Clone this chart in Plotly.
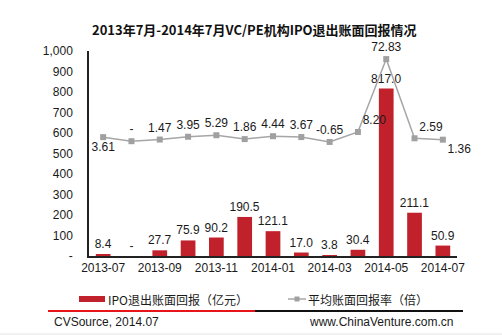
import plotly.graph_objects as go

months = ["2013-07", "2013-08", "2013-09", "2013-10", "2013-11", "2013-12", "2014-01",
          "2014-02", "2014-03", "2014-04", "2014-05", "2014-06", "2014-07"]
ipo_return = [8.4, 0, 27.7, 75.9, 90.2, 190.5, 121.1, 17.0, 3.8, 30.4, 817.0, 211.1, 50.9]
ipo_labels = ["8.4", "-", "27.7", "75.9", "90.2", "190.5", "121.1", "17.0", "3.8", "30.4", "817.0", "211.1", "50.9"]
avg_rate = [3.61, 0, 1.47, 3.95, 5.29, 1.86, 4.44, 3.67, -0.65, 8.20, 72.83, 2.59, 1.36]
rate_labels = ["3.61", "-", "1.47", "3.95", "5.29", "1.86", "4.44", "3.67", "-0.65", "8.20", "72.83", "2.59", "1.36"]
rate_pos = ["bottom center", "top center", "top center", "top center", "top center", "top center",
            "top center", "top center", "top center", "top right", "top center", "top right", "bottom right"]
tick_vals = [0, 100, 200, 300, 400, 500, 600, 700, 800, 900, 1000]
tick_text = ["-", "100", "200", "300", "400", "500", "600", "700", "800", "900", "1,000"]
x_ticks = ["2013-07", "2013-09", "2013-11", "2014-01", "2014-03", "2014-05", "2014-07"]

FONT = "Liberation Sans, Arial, sans-serif"
CJK = "Noto Sans CJK SC, sans-serif"
RED = "#C1212B"
GRAY = "#A6A6A6"

fig = go.Figure()
fig.add_trace(go.Scatter(
    x=months, y=avg_rate, yaxis="y2", mode="lines+markers+text",
    text=rate_labels, textposition=rate_pos, cliponaxis=False,
    line=dict(color=GRAY, width=1.5),
    marker=dict(symbol="square", size=6, color="#A0A0A0"),
    textfont=dict(family=FONT, size=12, color="#1a1a1a"),
    name="平均账面回报率（倍）", showlegend=False,
))
fig.add_trace(go.Bar(
    x=months, y=ipo_return, text=ipo_labels, textposition="outside", cliponaxis=False,
    constraintext="none",
    marker=dict(color=RED, line=dict(width=0)),
    textfont=dict(family=FONT, size=12, color="#1a1a1a"),
    name="IPO退出账面回报（亿元）", showlegend=False,
))

# paper coordinate helpers (plot area px: x 89..457, y 51..256)
def px(x):
    return (x - 89) / 368.0

def py(y):
    return (256 - y) / 205.0

shapes = [
    dict(type="rect", xref="paper", yref="paper", x0=px(79), x1=px(105), y0=py(302), y1=py(296),
         fillcolor=RED, line=dict(width=0)),
    dict(type="line", xref="paper", yref="paper", x0=px(288), x1=px(306), y0=py(299), y1=py(299),
         line=dict(color=GRAY, width=1.5)),
    dict(type="rect", xref="paper", yref="paper", x0=px(294.5), x1=px(299.5), y0=py(301.5), y1=py(296.5),
         fillcolor="#A0A0A0", line=dict(width=0)),
    dict(type="line", xref="paper", yref="paper", x0=px(48), x1=px(255), y0=py(311), y1=py(311),
         line=dict(color="#E8141C", width=2)),
    dict(type="line", xref="paper", yref="paper", x0=px(255), x1=px(463), y0=py(311), y1=py(311),
         line=dict(color="#111111", width=2)),
    dict(type="rect", xref="paper", yref="paper", x0=px(0), x1=px(502), y0=py(335), y1=py(333),
         fillcolor="#F2F2F2", line=dict(width=0)),
]

annotations = [
    dict(text="<b>2013年7月-2014年7月VC/PE机构IPO退出账面回报情况</b>", xref="paper", yref="paper",
         x=px(254), y=py(30), xanchor="center", yanchor="middle", showarrow=False,
         font=dict(family=CJK, size=13, color="#111111")),
    dict(text="IPO退出账面回报（亿元）", xref="paper", yref="paper", x=px(106), y=py(299),
         xanchor="left", yanchor="middle", showarrow=False,
         font=dict(family=CJK, size=12, color="#1a1a1a")),
    dict(text="平均账面回报率（倍）", xref="paper", yref="paper", x=px(306), y=py(299),
         xanchor="left", yanchor="middle", showarrow=False,
         font=dict(family=CJK, size=12, color="#1a1a1a")),
    dict(text="CVSource, 2014.07", xref="paper", yref="paper", x=px(52), y=py(322),
         xanchor="left", yanchor="middle", showarrow=False,
         font=dict(family=FONT, size=12, color="#1a1a1a")),
    dict(text="www.ChinaVenture.com.cn", xref="paper", yref="paper", x=px(455), y=py(322),
         xanchor="right", yanchor="middle", showarrow=False,
         font=dict(family=FONT, size=12, color="#1a1a1a")),
]

fig.update_layout(
    width=502, height=335,
    margin=dict(l=89, r=45, t=51, b=79),
    paper_bgcolor="white", plot_bgcolor="white",
    bargap=0.48,
    showlegend=False,
    shapes=shapes, annotations=annotations,
    xaxis=dict(type="category", range=[-0.5, 12.5], tickmode="array", tickvals=x_ticks, ticktext=x_ticks,
               showline=True, linecolor="#222222", linewidth=1.5, ticks="", showgrid=False,
               tickfont=dict(family=FONT, size=12, color="#1a1a1a")),
    yaxis=dict(range=[0, 1000], tickmode="array", tickvals=tick_vals, ticktext=tick_text,
               showline=True, linecolor="#222222", linewidth=1.5, ticks="", showgrid=False,
               zeroline=False, ticklabelstandoff=12,
               tickfont=dict(family=FONT, size=12, color="#1a1a1a")),
    yaxis2=dict(overlaying="y", range=[-101.8, 80], visible=False, showgrid=False, zeroline=False),
)

fig.write_html("out.html")
